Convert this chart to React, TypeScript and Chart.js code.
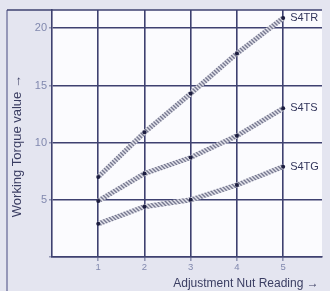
import React, { useEffect, useRef } from "react";
import { Chart, registerables } from "chart.js";

Chart.register(...registerables);

const xValues = [1, 2, 3, 4, 5];
const seriesNames = ["S4TR", "S4TS", "S4TG"];
const s4tr = [7.0, 10.9, 14.3, 17.8, 20.9];
const s4ts = [4.9, 7.3, 8.7, 10.6, 13.0];
const s4tg = [2.9, 4.4, 5.0, 6.3, 7.9];
const yTicks = [0, 5, 10, 15, 20];
const xTitle = "Adjustment Nut Reading →";
const yTitle = "Working Torque value →";

const GRID = "#3e4170";
const TICKTXT = "#8088ae";
const FONT = "'Liberation Sans', Arial, sans-serif";

function makePattern(): CanvasPattern | string {
  const c = document.createElement("canvas");
  c.width = 4;
  c.height = 4;
  const g = c.getContext("2d");
  if (!g) return "#9a9cb0";
  g.fillStyle = "#e2e2ea";
  g.fillRect(0, 0, 4, 4);
  g.strokeStyle = "#767890";
  g.lineWidth = 1.4;
  g.beginPath();
  g.moveTo(0, 0);
  g.lineTo(4, 4);
  g.moveTo(3, -1);
  g.lineTo(5, 1);
  g.moveTo(-1, 3);
  g.lineTo(1, 5);
  g.stroke();
  const p = g.createPattern(c, "repeat");
  return p || "#9a9cb0";
}

export default function App() {
  const ref = useRef<HTMLCanvasElement | null>(null);

  useEffect(() => {
    if (!ref.current) return;
    const pattern = makePattern();
    const mk = (vals: number[]) => xValues.map((x, i) => ({ x, y: vals[i] }));
    const allSeries = [s4tr, s4ts, s4tg];

    const bgPlugin = {
      id: "bgFrame",
      beforeDraw(chart: any) {
        const ctx = chart.ctx;
        const a = chart.chartArea;
        ctx.save();
        ctx.fillStyle = "#e4e5f0";
        ctx.fillRect(0, 0, chart.width, chart.height);
        ctx.fillStyle = "#fbfbfe";
        ctx.fillRect(a.left, a.top, a.right - a.left, a.bottom - a.top);
        ctx.strokeStyle = "#9597b8";
        ctx.lineWidth = 2;
        ctx.beginPath();
        ctx.moveTo(7, a.top);
        ctx.lineTo(7, chart.height);
        ctx.stroke();
        ctx.restore();
      },
      afterDraw(chart: any) {
        const ctx = chart.ctx;
        const a = chart.chartArea;
        ctx.save();
        ctx.strokeStyle = GRID;
        ctx.lineWidth = 1.5;
        ctx.beginPath();
        ctx.moveTo(7, a.top);
        ctx.lineTo(a.right, a.top);
        ctx.stroke();
        ctx.restore();
      },
    };

    const labelPlugin = {
      id: "endLabels",
      afterDatasetsDraw(chart: any) {
        const ctx = chart.ctx;
        ctx.save();
        ctx.font = "11px " + FONT;
        ctx.fillStyle = "#33365c";
        ctx.textAlign = "left";
        ctx.textBaseline = "middle";
        chart.data.datasets.forEach((ds: any, i: number) => {
          const meta = chart.getDatasetMeta(i);
          const pt = meta.data[meta.data.length - 1];
          if (pt) ctx.fillText(ds.label, pt.x + 7, pt.y);
        });
        ctx.restore();
      },
    };

    const chart = new Chart(ref.current, {
      type: "line",
      data: {
        datasets: allSeries.map((vals, i) => ({
          label: seriesNames[i],
          data: mk(vals),
          borderColor: pattern as any,
          borderWidth: 5,
          pointRadius: 2,
          pointBackgroundColor: "#1c1d40",
          pointBorderWidth: 0,
          fill: false,
          tension: 0,
        })),
      },
      options: {
        animation: false,
        responsive: false,
        events: [],
        layout: { padding: { top: 10, right: 8, left: 0, bottom: 0 } },
        plugins: { legend: { display: false }, tooltip: { enabled: false } },
        scales: {
          x: {
            type: "linear",
            min: 0,
            max: 5.84,
            afterBuildTicks: (s: any) => {
              s.ticks = xValues.map((v) => ({ value: v }));
            },
            afterFit: (s: any) => {
              s.height = 34;
            },
            ticks: {
              color: TICKTXT,
              font: { size: 9.5, family: FONT },
              padding: 1,
              maxRotation: 0,
            },
            grid: { color: GRID, lineWidth: 1.6, tickLength: 4, tickColor: "#9296b4" },
            border: { color: GRID, width: 1.6 },
            title: {
              display: true,
              text: xTitle + " ",
              align: "end",
              color: "#3a3d62",
              font: { size: 12, family: FONT },
              padding: { top: 0, bottom: 0 },
            },
          },
          y: {
            type: "linear",
            min: 0,
            max: 21.6,
            afterBuildTicks: (s: any) => {
              s.ticks = yTicks.map((v) => ({ value: v }));
            },
            afterFit: (s: any) => {
              s.width = 52;
            },
            ticks: {
              color: TICKTXT,
              font: { size: 11, family: FONT },
              padding: 2,
              callback: (v: any) => (v === 0 ? "" : String(v)),
            },
            grid: { color: GRID, lineWidth: 1.6, tickLength: 3, tickColor: "#9296b4" },
            border: { color: GRID, width: 1.6 },
            title: {
              display: true,
              text: yTitle + "       ",
              color: "#3a3d62",
              font: { size: 13, family: FONT },
              padding: { top: 10, bottom: 0 },
            },
          },
        },
      },
      plugins: [bgPlugin, labelPlugin],
    } as any);

    return () => chart.destroy();
  }, []);

  return (
    <div style={{ position: "fixed", left: 0, top: 0, width: 330, height: 291 }}>
      <canvas ref={ref} width={330} height={291} style={{ display: "block" }} />
    </div>
  );
}
